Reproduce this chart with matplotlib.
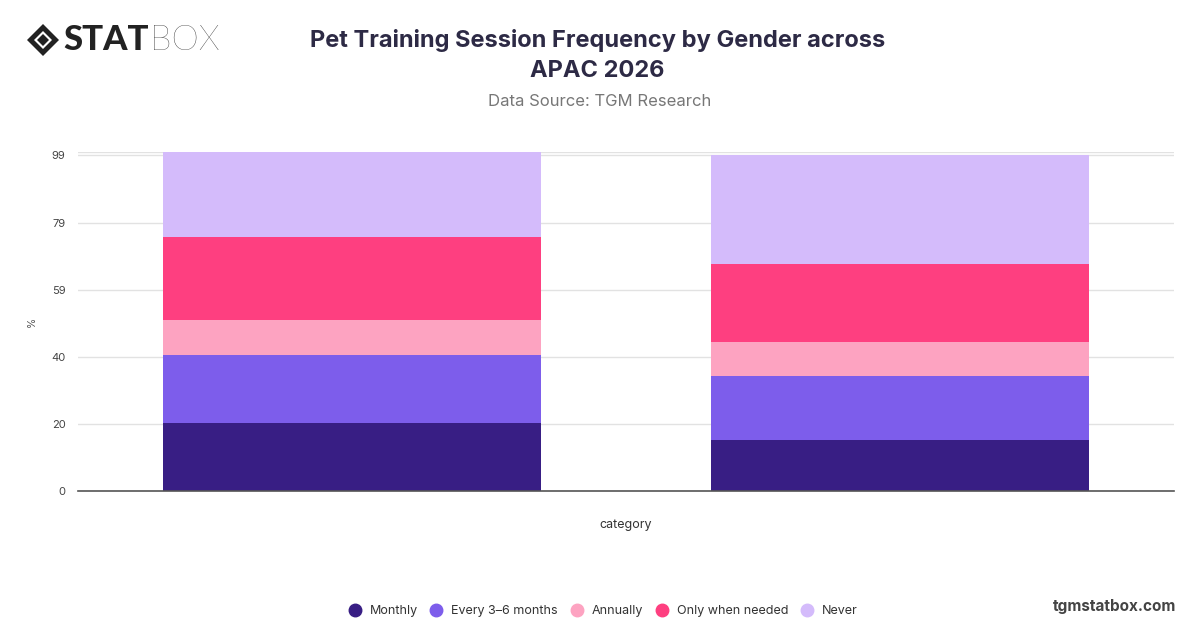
import numpy as np
import matplotlib.pyplot as plt
from matplotlib.patches import Polygon
from matplotlib.lines import Line2D

# data
groups = ["Male", "Female"]
series = ["Monthly", "Every 3–6 months", "Annually", "Only when needed", "Never"]
monthly = [20, 15]
every_3_6 = [20, 19]
annually = [10.5, 10]
only_needed = [24.5, 23]
never = [25, 32]
colors = ["#381e84", "#7d5deb", "#fda3c1", "#fe3f80", "#d4bbfb"]
tick_vals = [0, 19.8, 39.6, 59.4, 79.2, 99]
tick_labels = ["0", "20", "40", "59", "79", "99"]

plt.rcParams['font.family'] = ['Inter', 'DejaVu Sans']

fig = plt.figure(figsize=(12, 6.28), dpi=100)
ax = fig.add_axes([0.065, 0.218, 0.913, 0.540])

x = np.arange(len(groups))
bottom = np.zeros(len(groups))
for name, vals, c in zip(series, [monthly, every_3_6, annually, only_needed, never], colors):
    ax.bar(x, vals, width=0.69, bottom=bottom, color=c, label=name, zorder=2)
    bottom += np.array(vals)

ax.set_xlim(-0.5, 1.5)
ax.set_ylim(0, 100)
ax.set_yticks(tick_vals)
ax.set_yticklabels(tick_labels)
ax.set_xticks([])
ax.grid(axis='y', color='#e2e2e2', linewidth=1, zorder=0)
ax.axhline(100, color='#e2e2e2', linewidth=1, zorder=0)
for s in ['top', 'right', 'left']:
    ax.spines[s].set_visible(False)
ax.spines['bottom'].set_color('#555555')
ax.spines['bottom'].set_linewidth(1.2)
ax.tick_params(axis='y', length=0, labelsize=8, labelcolor='#444444', pad=9)
ax.set_xlabel("category", fontsize=9, color='#333333', labelpad=20)
ax.set_ylabel("%", fontsize=7.5, color='#555555', labelpad=10)

# title block
fig.text(0.498, 0.912, "Pet Training Session Frequency by Gender across\nAPAC 2026",
         ha='center', va='center', fontsize=17, fontweight='bold', color='#2d2a45',
         linespacing=1.45)
fig.text(0.5, 0.838, "Data Source: TGM Research", ha='center', va='center',
         fontsize=12, color='#777777')

# logo
outer = Polygon([[27, 40], [43, 24], [59, 40], [43, 56]], closed=True,
                facecolor='#222222', edgecolor='none')
inner = Polygon([[34, 40], [43, 31], [52, 40], [43, 49]], closed=True,
                facecolor='white', edgecolor='none')
inner2 = Polygon([[37, 40], [43, 34], [49, 40], [43, 46]], closed=True,
                 facecolor='#222222', edgecolor='none')
for p in (outer, inner, inner2):
    p.set_transform(fig.transFigure)
    p.set_xy(p.get_xy() / np.array([1200, 628]) * np.array([1, -1]) + np.array([0, 1]))
    fig.add_artist(p)
stat = fig.text(0.053, 0.936, "STAT", ha='left', va='center', fontsize=25,
                fontweight='black', color='#222222', family=['Lato', 'DejaVu Sans'])
fig.canvas.draw()
bb = stat.get_window_extent().transformed(fig.transFigure.inverted())
fig.text(bb.x1 + 0.001, 0.936, "BOX", ha='left', va='center', fontsize=25,
         fontweight='light', color='#222222', family=['Lato', 'DejaVu Sans'])

# legend
handles = [Line2D([0], [0], marker='o', linestyle='', markersize=9,
                  markerfacecolor=c, markeredgecolor=c) for c in colors]
fig.legend(handles, series, loc='center', bbox_to_anchor=(0.5, 0.027),
           ncol=5, frameon=False, fontsize=9, handletextpad=0.2,
           columnspacing=0.5, labelcolor='#333333')

fig.text(0.98, 0.035, "tgmstatbox.com", ha='right', va='center', fontsize=11,
         fontweight='bold', color='#444444')

fig.savefig("out.png", dpi=100)
